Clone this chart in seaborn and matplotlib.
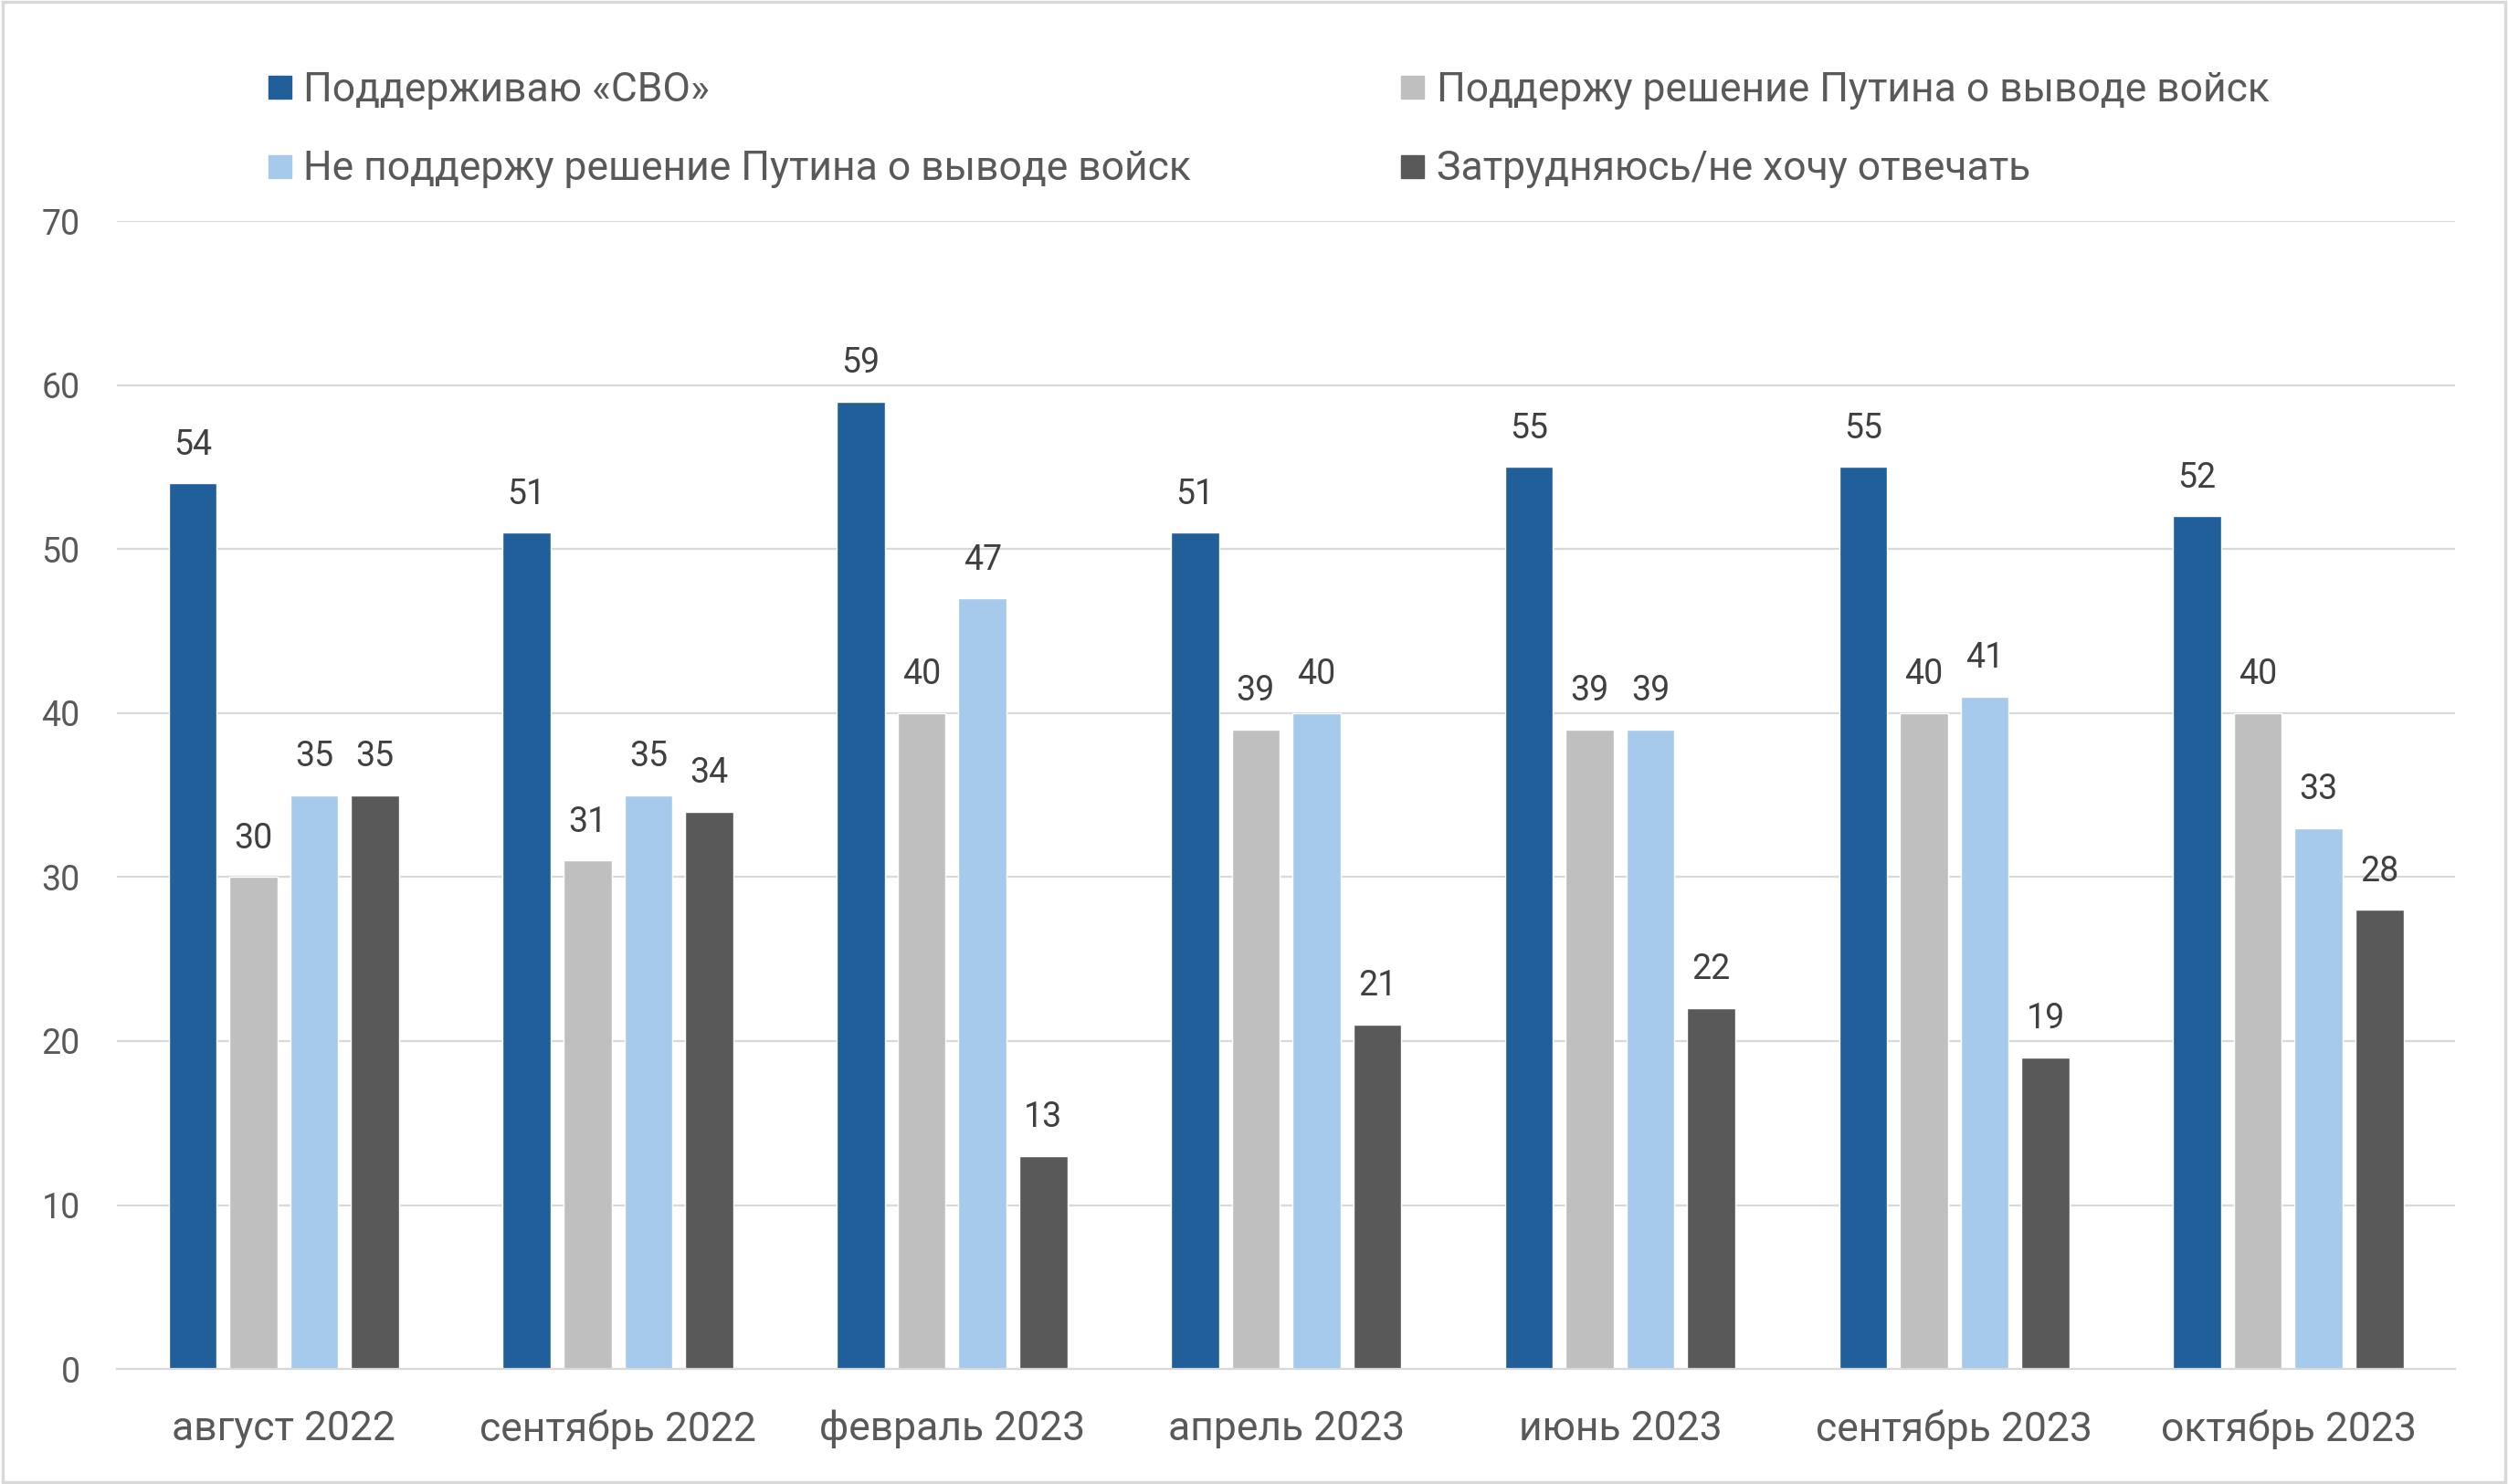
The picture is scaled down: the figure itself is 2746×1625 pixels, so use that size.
import matplotlib
matplotlib.use("Agg")
import matplotlib.pyplot as plt
import seaborn as sns
import pandas as pd
from matplotlib.lines import Line2D
from matplotlib.patches import Rectangle

categories = ["август 2022", "сентябрь 2022", "февраль 2023", "апрель 2023",
              "июнь 2023", "сентябрь 2023", "октябрь 2023"]
series_names = ["Поддерживаю «СВО»",
                "Поддержу решение Путина о выводе войск",
                "Не поддержу решение Путина о выводе войск",
                "Затрудняюсь/не хочу отвечать"]
support_svo = [54, 51, 59, 51, 55, 55, 52]
support_withdrawal = [30, 31, 40, 39, 39, 40, 40]
not_support_withdrawal = [35, 35, 47, 40, 39, 41, 33]
hard_to_say = [35, 34, 13, 21, 22, 19, 28]
colors = ["#215F9A", "#BFBFBF", "#A6CAEC", "#595959"]
yticks = [0, 10, 20, 30, 40, 50, 60, 70]

series_values = [support_svo, support_withdrawal, not_support_withdrawal, hard_to_say]
rows = []
for name, vals in zip(series_names, series_values):
    for cat, v in zip(categories, vals):
        rows.append({"period": cat, "series": name, "value": v})
df = pd.DataFrame(rows)

sns.set_theme(style="white")
plt.rcParams["font.family"] = ["Roboto", "DejaVu Sans"]

fig = plt.figure(figsize=(27.46, 16.25), dpi=100)
ax = fig.add_axes([0.0466, 0.0775, 0.9324, 0.7735])

sns.barplot(data=df, x="period", y="value", hue="series", order=categories,
            hue_order=series_names, palette=colors, saturation=1,
            width=0.728, gap=0.21, legend=False, ax=ax, errorbar=None)

for c in ax.containers:
    ax.bar_label(c, fmt="{:.0f}", padding=17, fontsize=27, color="#404040")

ax.set_ylim(0, 70)
ax.set_xlim(-0.5, len(categories) - 0.5)
ax.set_yticks(yticks)
ax.set_yticklabels([str(t) for t in yticks])
ax.grid(axis="y", color="#D9D9D9", linewidth=1.6)
ax.set_axisbelow(True)
for s in ["top", "right", "left"]:
    ax.spines[s].set_visible(False)
ax.spines["bottom"].set_color("#D9D9D9")
ax.spines["bottom"].set_linewidth(1.6)
ax.tick_params(axis="x", length=0, pad=32, labelsize=32, labelcolor="#595959")
ax.tick_params(axis="y", length=0, pad=29, labelsize=27, labelcolor="#595959")
ax.set_xlabel("")
ax.set_ylabel("")

handles = [Line2D([0], [0], marker="s", linestyle="none", markersize=18,
                  markerfacecolor=col, markeredgecolor=col) for col in colors]
order = [0, 2, 1, 3]
leg = fig.legend([handles[i] for i in order], [series_names[i] for i in order],
                 ncol=2, loc="upper left", bbox_to_anchor=(0.1064, 0.952),
                 frameon=False, fontsize=32, labelcolor="#595959",
                 handlelength=0.6, handletextpad=0.3, columnspacing=5.15,
                 labelspacing=1.0, borderaxespad=0, borderpad=0)

fig.patches.append(Rectangle((0.001, 0.001), 0.998, 0.998, transform=fig.transFigure,
                             fill=False, edgecolor="#D9D9D9", linewidth=2.5))

fig.savefig("out.png", dpi=100, facecolor="white")
